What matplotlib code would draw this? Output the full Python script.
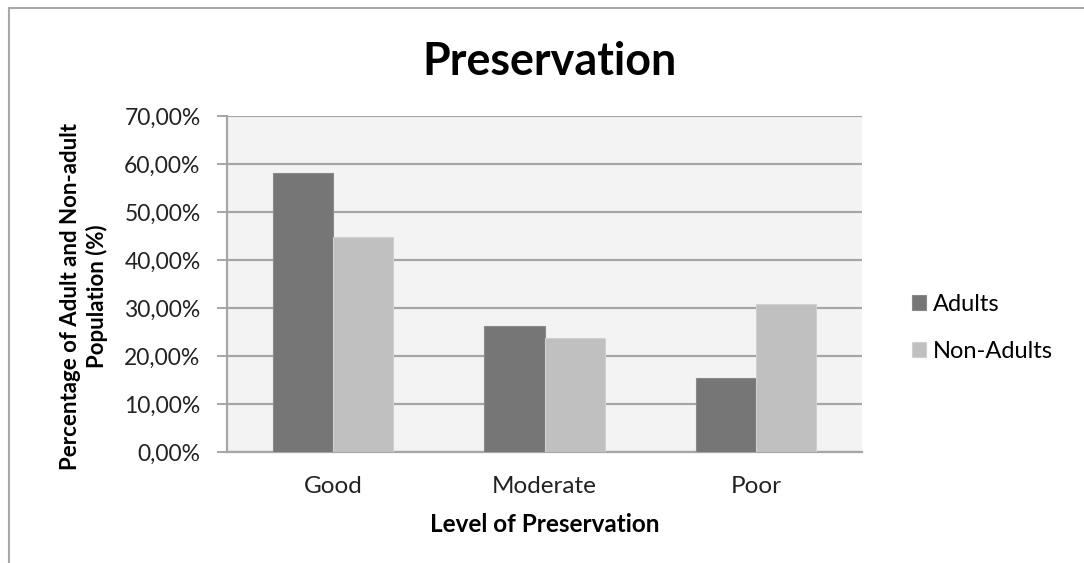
import matplotlib.pyplot as plt
from matplotlib.lines import Line2D
from matplotlib.ticker import FuncFormatter, MultipleLocator
import numpy as np

# Share of each population by preservation level (%)
levels = ["Good", "Moderate", "Poor"]
adults = [58.1, 26.2, 15.4]
non_adults = [44.8, 23.8, 30.8]
series_names = ["Adults", "Non-Adults"]

plt.rcParams['font.family'] = ['Lato', 'DejaVu Sans']

fig = plt.figure(figsize=(10.84, 5.63), dpi=100)
ax = fig.add_axes([227 / 1084, 1 - 452 / 563, 635 / 1084, 336 / 563])
ax.set_facecolor('#f3f3f3')

x = np.arange(len(levels))
w = 0.2835
b1 = ax.bar(x - w / 2, adults, w, color='#767676', edgecolor='#8a8a8a', linewidth=0.8,
            label=series_names[0], zorder=3)
b2 = ax.bar(x + w / 2, non_adults, w, color='#c0c0c0', edgecolor='#d0d0d0', linewidth=0.8,
            label=series_names[1], zorder=3)

ax.set_xlim(-0.5, 2.5)
ax.set_ylim(0, 70)
ax.yaxis.set_major_locator(MultipleLocator(10))
ax.yaxis.set_major_formatter(FuncFormatter(lambda v, _: f"{v:.2f}%".replace('.', ',')))
ax.grid(axis='y', color='#a6a6a6', linewidth=1.6, zorder=1)
ax.set_axisbelow(True)

for s in ['top', 'right']:
    ax.spines[s].set_visible(False)
for s in ['left', 'bottom']:
    ax.spines[s].set_color('#a6a6a6')
    ax.spines[s].set_linewidth(1.6)

ax.set_xticks(x)
ax.set_xticklabels(levels)
ax.tick_params(axis='x', length=0, pad=17, labelsize=17.5, labelcolor='#222222')
ax.tick_params(axis='y', length=7, width=1.4, color='#a6a6a6', pad=12, labelsize=16.5,
               labelcolor='#222222')

ax.set_xlabel("Level of Preservation", fontsize=17.5, fontweight='bold', labelpad=12)
ax.set_ylabel("Percentage of Adult and Non-adult\nPopulation (%)", fontsize=16,
              fontweight='bold', linespacing=1.3)
ax.yaxis.set_label_coords((108 - 227) / 635, (452 - 296) / 336)

fig.text(549 / 1084, 1 - 62 / 563, "Preservation", ha='center', va='center',
         fontsize=32.3, fontweight='bold')

fig.legend(handles=[b1, b2], loc='center left', bbox_to_anchor=(912 / 1084, 1 - 328 / 563),
           frameon=False, fontsize=17, handlelength=0.6, handleheight=0.6,
           handletextpad=0.3, labelspacing=1.1, borderpad=0, borderaxespad=0)

# Chart frame
frame = dict(color='#a8a8a8', linewidth=1.5, transform=fig.transFigure)
fig.add_artist(Line2D([9 / 1084, 9 / 1084], [0, 1 - 8 / 563], **frame))
fig.add_artist(Line2D([9 / 1084, 1], [1 - 8 / 563, 1 - 8 / 563], **frame))

fig.savefig("out.png", dpi=100, facecolor='white')
